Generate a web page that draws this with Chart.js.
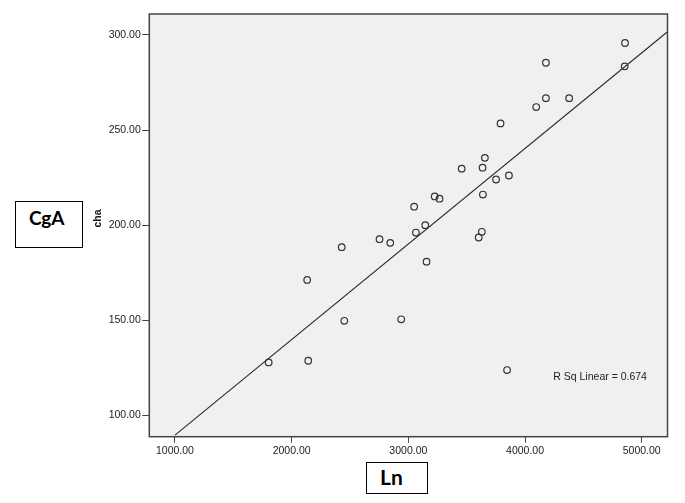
<!DOCTYPE html>
<html>
<head>
<meta charset="utf-8">
<title>cha vs Ln</title>
<script src="https://cdn.jsdelivr.net/npm/chart.js@4.4.1/dist/chart.umd.min.js"></script>
<style>
    html, body { margin: 0; padding: 0; background: #ffffff; }
    #wrap { position: relative; width: 685px; height: 503px; }
    #scatter-chart { position: absolute; left: 0; top: 0; }
    .label-box {
        position: absolute;
        border: 1px solid #000;
        background: #fff;
        font-family: Lato, "Open Sans", sans-serif;
        font-weight: 700;
        color: #000;
        box-sizing: border-box;
    }
    #box-cga { left: 15px; top: 201px; width: 68px; height: 47px; font-size: 19px; padding: 4px 0 0 13px; }
    #box-ln { left: 366px; top: 462px; width: 62px; height: 32px; font-size: 21px; padding: 1px 0 0 13px; line-height: 26px; }
</style>
</head>
<body>
<div id="wrap">
    <canvas id="scatter-chart" width="685" height="503"></canvas>
    <div class="label-box" id="box-cga">CgA</div>
    <div class="label-box" id="box-ln">Ln</div>
</div>
<script>
// Data
const lnValues = [4857, 4854, 4179, 4179, 4378, 4096, 3790, 3656, 3457, 3636,
                  3862, 3752, 3226, 3267, 3639, 3050, 3145, 3065, 3630, 3603,
                  2753, 2845, 2429, 2133, 3156, 2451, 2939, 1803, 2142, 3846];
const chaValues = [295.8, 283.5, 285.4, 266.8, 266.8, 262.1, 253.5, 235.4, 229.7, 230.2,
                   226.1, 224.0, 215.1, 213.9, 216.1, 209.7, 200.0, 196.1, 196.5, 193.5,
                   192.6, 190.7, 188.4, 171.2, 180.8, 149.7, 150.5, 127.8, 128.7, 123.8];

// Fit line end points (linear fit drawn by SPSS)
const fitX = [1000, 5221];
const fitY = [89.6, 301.7];

// Tick labels
const xTicks = [1000, 2000, 3000, 4000, 5000];
const yTicks = [100, 150, 200, 250, 300];

const rSqText = 'R Sq Linear = 0.674';

const tickFont = { family: '"Liberation Sans", Arial, sans-serif', size: 10.5 };

// Plot background, outer frame, axis title and R sq note
const framePlugin = {
    id: 'frame',
    beforeDraw(chart) {
        const { ctx, chartArea: a } = chart;
        ctx.save();
        ctx.fillStyle = '#f0f0f0';
        ctx.fillRect(a.left, a.top, a.right - a.left, a.bottom - a.top);
        ctx.restore();
    },
    afterDraw(chart) {
        const { ctx, chartArea: a, scales } = chart;
        ctx.save();
        ctx.strokeStyle = '#444';
        ctx.lineWidth = 1.5;
        ctx.strokeRect(a.left, a.top, a.right - a.left, a.bottom - a.top);

        // R sq note inside the plot
        ctx.fillStyle = '#222';
        ctx.font = '10.5px "Liberation Sans", Arial, sans-serif';
        ctx.textAlign = 'left';
        ctx.textBaseline = 'middle';
        ctx.fillText(rSqText, scales.x.getPixelForValue(4242), scales.y.getPixelForValue(120.3));

        // y axis title
        ctx.translate(98.5, 218.5);
        ctx.rotate(-Math.PI / 2);
        ctx.font = 'bold 10.5px "Liberation Sans", Arial, sans-serif';
        ctx.textAlign = 'center';
        ctx.fillStyle = '#111';
        ctx.fillText('cha', 0, 0);
        ctx.restore();
    }
};

function createScatterChart() {
    const ctx = document.getElementById('scatter-chart').getContext('2d');

    const points = lnValues.map((v, i) => ({ x: v, y: chaValues[i] }));
    const fitPoints = fitX.map((v, i) => ({ x: v, y: fitY[i] }));

    new Chart(ctx, {
        type: 'scatter',
        data: {
            datasets: [
                {
                    label: 'cha',
                    data: points,
                    pointStyle: 'circle',
                    pointRadius: 3.3,
                    pointBackgroundColor: 'rgba(0,0,0,0)',
                    pointBorderColor: '#333',
                    pointBorderWidth: 1.2,
                    order: 1
                },
                {
                    type: 'line',
                    label: 'Linear',
                    data: fitPoints,
                    borderColor: '#2a2a2a',
                    borderWidth: 1.1,
                    pointRadius: 0,
                    fill: false,
                    order: 2
                }
            ]
        },
        options: {
            responsive: false,
            animation: false,
            devicePixelRatio: 1,
            layout: {
                padding: { left: 0, top: 14, right: 17.5, bottom: 0 }
            },
            plugins: {
                legend: { display: false },
                tooltip: { enabled: false }
            },
            scales: {
                x: {
                    type: 'linear',
                    min: 780,
                    max: 5221,
                    afterFit(scale) { scale.height = 66.3; },
                    afterBuildTicks(scale) { scale.ticks = xTicks.map(v => ({ value: v })); },
                    grid: { drawOnChartArea: false, drawTicks: true, tickLength: 6, color: '#444', lineWidth: 1 },
                    border: { display: false },
                    ticks: {
                        padding: 2,
                        color: '#222',
                        font: tickFont,
                        maxRotation: 0,
                        callback: v => v.toFixed(2)
                    }
                },
                y: {
                    type: 'linear',
                    min: 88.75,
                    max: 311.04,
                    afterFit(scale) { scale.width = 149.3; },
                    afterBuildTicks(scale) { scale.ticks = yTicks.map(v => ({ value: v })); },
                    grid: { drawOnChartArea: false, drawTicks: true, tickLength: 7, color: '#444', lineWidth: 1 },
                    border: { display: false },
                    ticks: {
                        padding: 1.5,
                        color: '#222',
                        font: tickFont,
                        callback: v => v.toFixed(2)
                    }
                }
            }
        },
        plugins: [framePlugin]
    });
}

createScatterChart();
</script>
</body>
</html>
